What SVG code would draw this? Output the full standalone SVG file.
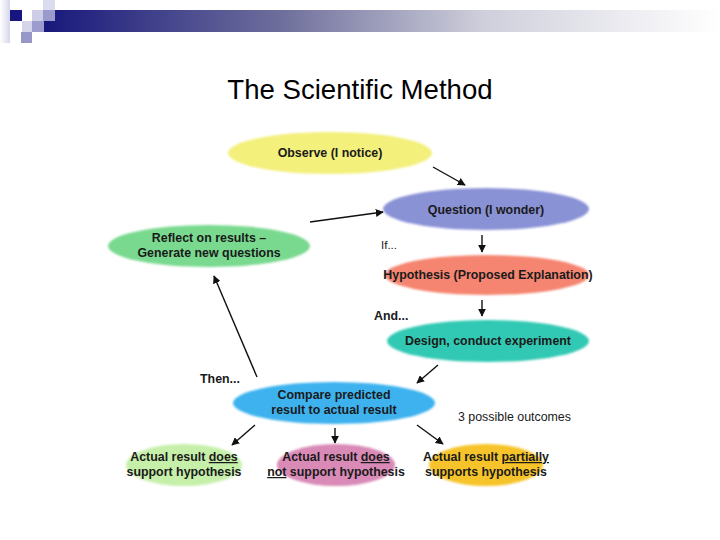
<svg xmlns="http://www.w3.org/2000/svg" width="720" height="540" viewBox="0 0 720 540">
  <style>
    .node { font-family: "Liberation Sans", Arial, sans-serif; font-size: 12.4px; font-weight: bold; fill: #1a1a1a; text-anchor: middle; }
    .lbl { font-family: "Liberation Sans", Arial, sans-serif; fill: #1a1a1a; }
    .conn line { stroke: #111; stroke-width: 1.4; marker-end: url(#arr); }
    .u { text-decoration: underline; }
    ellipse { filter: url(#soft); }
  </style>
  <defs>
    <linearGradient id="bar" x1="0" y1="0" x2="1" y2="0">
      <stop offset="0" stop-color="#18187c"/>
      <stop offset="0.35" stop-color="#6e6e9c"/>
      <stop offset="0.65" stop-color="#cfcfdc"/>
      <stop offset="1" stop-color="#ffffff"/>
    </linearGradient>
    <linearGradient id="strip" x1="0" y1="0" x2="1" y2="0">
      <stop offset="0" stop-color="#ffffff"/>
      <stop offset="1" stop-color="#d6d6ec"/>
    </linearGradient>
    <filter id="soft" x="-10%" y="-20%" width="120%" height="140%">
      <feGaussianBlur stdDeviation="1"/>
    </filter>
    <marker id="arr" viewBox="0 0 10 10" refX="9" refY="5" markerWidth="8" markerHeight="8" markerUnits="userSpaceOnUse" orient="auto">
      <path d="M0,0 L10,5 L0,10 z" fill="#111"/>
    </marker>
  </defs>

  <rect width="720" height="540" fill="#ffffff"/>

  <g id="header">
    <rect x="44" y="10" width="676" height="22" fill="url(#bar)"/>
    <rect x="0" y="0" width="10" height="43" fill="url(#strip)"/>
    <rect x="10" y="10" width="12" height="11" fill="#16167e"/>
    <rect x="22" y="21" width="10" height="11" fill="#d4d4ea"/>
    <rect x="32" y="10" width="11" height="11" fill="#cdcde8"/>
    <rect x="32" y="21" width="12" height="11" fill="#9c9cce"/>
    <rect x="43" y="0" width="12" height="10" fill="#dcdcf0"/>
    <rect x="43" y="10" width="12" height="11" fill="#9a9acc"/>
    <rect x="21" y="32" width="11" height="11" fill="#9898c8"/>
  </g>

  <text id="title" x="360" y="99" text-anchor="middle" font-family="'Liberation Sans', Arial, sans-serif" font-size="27.6" fill="#000">The Scientific Method</text>

  <g id="observe">
    <ellipse cx="330" cy="153" rx="102" ry="21" fill="#f3f07c"/>
    <text class="node" x="330" y="157">Observe (I notice)</text>
  </g>
  <g id="question">
    <ellipse cx="486" cy="209" rx="103" ry="21" fill="#8a92d6"/>
    <text class="node" x="486" y="214">Question (I wonder)</text>
  </g>
  <g id="reflect">
    <ellipse cx="209" cy="246" rx="101" ry="21" fill="#79d98f"/>
    <text class="node" x="209" y="242">Reflect on results –</text>
    <text class="node" x="209" y="257">Generate new questions</text>
  </g>
  <g id="hypothesis">
    <ellipse cx="487" cy="275" rx="102" ry="20" fill="#f5856f"/>
    <text class="node" x="488" y="279">Hypothesis (Proposed Explanation)</text>
  </g>
  <g id="design">
    <ellipse cx="488" cy="341" rx="101" ry="21" fill="#33c9b4"/>
    <text class="node" x="488" y="345">Design, conduct experiment</text>
  </g>
  <g id="compare">
    <ellipse cx="334" cy="403" rx="101" ry="21" fill="#3db2ee"/>
    <text class="node" x="334" y="399">Compare predicted</text>
    <text class="node" x="334" y="414">result to actual result</text>
  </g>
  <g id="supports">
    <ellipse cx="184" cy="465" rx="58" ry="21" fill="#c6f0aa"/>
    <text class="node" x="184" y="461">Actual result <tspan class="u">does</tspan></text>
    <text class="node" x="184" y="476">support hypothesis</text>
  </g>
  <g id="not-supports">
    <ellipse cx="336" cy="465" rx="59" ry="21" fill="#d98ab7"/>
    <text class="node" x="336" y="461">Actual result <tspan class="u">does</tspan></text>
    <text class="node" x="336" y="476"><tspan class="u">not</tspan> support hypothesis</text>
  </g>
  <g id="partially">
    <ellipse cx="486" cy="465" rx="57" ry="21" fill="#f6c42c"/>
    <text class="node" x="486" y="461">Actual result <tspan class="u">partially</tspan></text>
    <text class="node" x="486" y="476">supports hypothesis</text>
  </g>

  <g id="labels">
    <text class="lbl" x="381" y="249" font-size="11.5">If...</text>
    <text class="lbl" x="374" y="320" font-size="12.4" font-weight="bold">And...</text>
    <text class="lbl" x="200" y="383" font-size="12.4" font-weight="bold">Then...</text>
    <text class="lbl" x="458" y="421" font-size="12.4">3 possible outcomes</text>
  </g>

  <g id="connectors" class="conn">
    <line x1="433" y1="167" x2="465" y2="185"/>
    <line x1="310" y1="222" x2="383" y2="212"/>
    <line x1="482" y1="235" x2="482" y2="252"/>
    <line x1="482" y1="300" x2="482" y2="316"/>
    <line x1="438" y1="365" x2="417" y2="383"/>
    <line x1="257" y1="377" x2="214" y2="276"/>
    <line x1="255" y1="425" x2="232" y2="445"/>
    <line x1="335" y1="428" x2="335" y2="443"/>
    <line x1="417" y1="425" x2="443" y2="444"/>
  </g>
</svg>
